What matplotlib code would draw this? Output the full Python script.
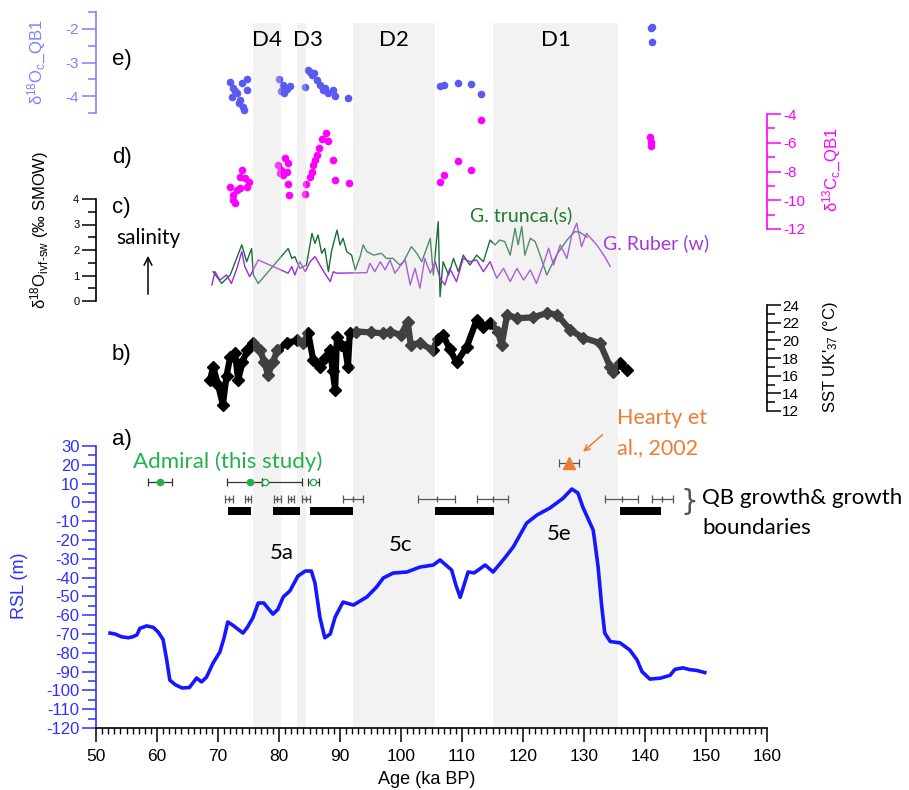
import numpy as np
import matplotlib.pyplot as plt
from matplotlib.patches import FancyArrowPatch
from matplotlib.ticker import MultipleLocator

plt.rcParams['font.family'] = ['Liberation Sans', 'DejaVu Sans']
plt.rcParams['mathtext.fontset'] = 'custom'
plt.rcParams['mathtext.rm'] = 'Liberation Sans'
plt.rcParams['mathtext.it'] = 'Liberation Sans:italic'
plt.rcParams['axes.unicode_minus'] = False

# ---- values ----
bands = [(75.7, 80.3), (83.0, 84.4), (92.1, 105.6), (115.1, 135.6)]
band_names = ["D4", "D3", "D2", "D1"]

# e) d18O calcite QB1
e_age = [72.0, 74.8, 72.5, 73.1, 72.3, 73.6, 74.1, 74.3, 74.8, 74.0, 72.8, 73.4,
         80.0, 80.7, 81.0, 80.4, 81.8, 80.9, 81.3,
         84.8, 85.4, 84.3, 86.2, 86.7, 87.2, 88.0, 88.9, 89.2, 91.3, 85.8, 85.1, 87.6,
         106.4, 107.0, 109.3, 111.5, 113.1,
         141.1, 141.0, 141.2]
e_d18o = [-3.58, -3.49, -3.76, -3.91, -4.03, -4.12, -4.33, -4.40, -3.82, -3.60, -3.85, -4.20,
          -3.49, -3.67, -3.76, -3.85, -3.70, -3.90, -3.80,
          -3.22, -3.37, -3.73, -3.52, -3.67, -3.82, -3.91, -3.82, -4.00, -4.06, -3.30, -3.28, -3.75,
          -3.70, -3.67, -3.60, -3.64, -3.94,
          -1.94, -1.98, -2.39]

# d) d13C calcite QB1
d_age = [72.0, 72.5, 72.8, 73.1, 73.6, 73.9, 73.6, 74.4, 75.0, 74.7, 72.5,
         79.9, 80.4, 81.0, 81.5, 80.7, 81.3, 80.2, 81.5, 81.7,
         84.3, 84.5, 85.1, 85.4, 85.6, 85.9, 86.2, 86.6, 87.0, 87.7, 88.1, 88.9, 89.1, 91.4,
         106.4, 107.1, 109.3, 111.5, 113.1,
         140.8, 141.0, 141.0]
d_d13c = [-9.06, -9.64, -10.22, -9.30, -9.18, -7.90, -8.37, -8.48, -8.71, -9.06, -9.99,
          -7.55, -7.90, -7.09, -7.44, -8.25, -8.02, -8.13, -8.90, -9.64,
          -9.57, -8.90, -8.37, -8.02, -7.55, -7.21, -6.86, -6.35, -5.74, -5.35, -5.88, -7.21, -8.60, -8.81,
          -8.71, -8.25, -7.28, -7.90, -4.40,
          -5.60, -5.95, -6.20]

# c) d18O ivf-sw, G. truncatulinoides (s)
tr_age = [69.2, 70.6, 72.0, 73.9, 74.7, 75.5, 75.8, 76.6, 81.5, 82.1, 82.6, 83.4, 84.5,
          85.4, 85.9, 86.4, 87.0, 87.5, 88.1, 88.6, 89.5, 90.0, 90.5, 91.1, 91.9, 92.5,
          93.3, 93.8, 94.4, 95.5, 96.8, 97.6, 98.7, 99.8, 100.4, 101.7, 102.6, 103.4,
          104.8, 105.3, 106.1, 106.4, 106.9, 107.8, 108.6, 109.4, 110.2, 111.3, 112.4,
          113.5, 114.6, 115.4, 116.2, 117.0, 117.9, 118.7, 119.2, 119.8, 120.3, 121.2,
          122.0, 122.8, 123.9, 125.5, 127.2, 128.5, 129.3, 130.5]
tr_d18o = [1.15, 0.69, 1.02, 2.20, 1.54, 2.06, 1.02, 0.69, 2.06, 1.67, 1.74, 1.28, 1.41,
           2.65, 2.26, 2.59, 1.87, 2.06, 1.15, 1.94, 2.78, 2.20, 2.46, 1.94, 1.80, 1.22,
           1.74, 2.20, 1.94, 1.80, 1.87, 1.67, 1.67, 1.41, 1.54, 2.13, 1.87, 1.54,
           2.46, 1.02, 3.11, 0.17, 1.54, 1.02, 1.67, 1.15, 1.80, 1.41, 1.80,
           1.54, 2.39, 2.20, 2.39, 2.33, 1.80, 2.85, 2.20, 2.92, 1.80, 2.46,
           2.33, 1.80, 1.02, 1.80, 2.39, 2.72, 2.70, 2.50]

# c) d18O ivf-sw, G. ruber (w)
rub_age = [69.0, 69.5, 70.3, 71.4, 72.2, 73.1, 73.9, 74.4, 75.2, 76.6, 81.5, 82.1, 82.6,
           83.4, 84.3, 85.1, 85.9, 86.7, 87.5, 88.4, 88.9, 89.5, 94.4, 94.9, 95.7, 96.6,
           97.4, 98.2, 99.0, 99.8, 100.7, 101.5, 102.3, 103.1, 103.9, 104.8, 105.6, 106.4,
           107.2, 108.0, 109.1, 110.2, 111.3, 112.4, 113.5, 114.6, 115.7, 116.8, 117.9,
           119.0, 120.1, 121.2, 122.2, 123.3, 124.2, 125.0, 126.1, 127.2, 128.0, 128.8,
           129.6, 130.4, 132.1, 133.4, 134.3]
rub_d18o = [0.63, 1.15, 0.82, 1.02, 0.69, 1.28, 1.94, 1.35, 0.95, 1.61, 1.09, 1.35, 1.02,
            1.54, 1.15, 1.54, 1.74, 1.41, 1.09, 0.76, 1.15, 1.09, 1.11, 1.48, 1.15, 1.54,
            1.22, 1.61, 1.09, 1.35, 1.61, 0.63, 1.28, 0.50, 1.67, 1.09, 1.54, 0.89,
            0.63, 1.28, 0.76, 1.67, 1.54, 1.61, 1.15, 1.54, 0.89, 1.28, 0.76,
            1.28, 0.82, 1.22, 0.69, 1.41, 2.07, 1.41, 2.20, 1.67, 2.59, 3.05,
            2.13, 2.65, 2.20, 1.74, 1.35]

# b) SST UK'37
sst_age = [68.7, 69.2, 70.0, 70.8, 71.4, 72.0, 72.8, 73.3, 74.0, 74.8, 75.7, 76.9, 77.6,
           78.2, 79.0, 79.7, 81.3, 82.9, 84.0, 84.8, 85.6, 86.7, 87.6, 88.4, 88.8, 89.2,
           89.5, 90.2, 90.8, 91.3, 91.6, 92.7, 95.0, 97.0, 98.2, 100.0, 101.1, 101.6,
           103.1, 105.2, 106.0, 106.9, 108.0, 109.1, 110.8, 112.4, 113.5, 114.6, 115.9,
           116.5, 117.4, 119.0, 121.6, 124.0, 125.6, 127.7, 129.8, 132.6, 134.3, 134.8,
           135.9, 137.0]
sst = [15.5, 17.0, 15.0, 12.7, 16.0, 18.1, 18.6, 15.5, 17.5, 18.9, 19.7, 18.9, 17.5,
       16.1, 17.5, 18.9, 19.7, 20.0, 19.7, 20.8, 17.8, 17.0, 18.0, 18.9, 16.5, 14.4,
       20.4, 19.5, 19.3, 17.0, 20.8, 21.0, 20.9, 20.8, 21.0, 20.6, 22.1, 19.5,
       19.7, 18.9, 20.2, 20.6, 19.0, 17.5, 19.3, 22.3, 21.5, 22.0, 21.0,
       19.5, 22.9, 22.5, 22.6, 23.1, 22.9, 21.2, 20.3, 19.7, 17.0, 16.4,
       17.4, 16.6]

# a) relative sea level
rsl_age = [52.3, 53.1, 54.2, 55.3, 56.0, 56.7, 57.2, 58.3, 59.4, 60.2, 61.0, 61.6, 62.1,
           63.0, 64.1, 65.3, 66.5, 67.3, 68.1, 69.2, 70.3, 71.0, 71.6, 72.5, 74.1, 74.8,
           75.7, 76.6, 77.5, 79.0, 79.8, 80.7, 81.8, 83.1, 84.3, 85.3, 85.9, 86.7, 87.5,
           88.4, 89.2, 90.5, 92.2, 94.4, 96.0, 97.1, 98.7, 101.0, 103.1, 105.3, 106.4,
           108.3, 109.0, 109.7, 111.0, 112.0, 113.8, 115.1, 117.0, 118.4, 120.6, 122.3,
           124.4, 126.5, 128.0, 129.0, 129.8, 131.5, 131.8, 132.3, 132.9, 133.4, 134.3,
           135.9, 137.5, 138.7, 139.5, 140.8, 142.5, 144.1, 144.9, 146.2, 147.4, 148.5,
           149.8]
rsl = [-69.5, -70.0, -71.5, -72.0, -71.5, -70.5, -67.0, -65.7, -66.5, -69.0, -73.0, -84.0,
       -94.5, -97.0, -98.7, -98.5, -93.4, -95.5, -93.0, -85.4, -79.6, -72.0, -63.6, -65.5,
       -69.5, -66.5, -61.5, -53.5, -53.5, -59.4, -57.0, -50.3, -47.0, -39.2, -36.5, -36.5,
       -42.9, -61.0, -72.0, -70.0, -61.0, -53.0, -54.6, -50.3, -45.0, -40.2, -37.6, -37.0,
       -34.4, -33.3, -30.6, -36.0, -44.0, -50.5, -37.0, -37.5, -33.3, -37.0, -29.6, -23.7,
       -11.0, -6.7, -3.0, 2.0, 7.1, 5.0, -2.4, -14.7, -21.6, -34.0, -55.0, -69.5, -74.0,
       -74.7, -78.5, -83.8, -90.0, -94.0, -93.5, -92.0, -88.8, -88.0, -89.0, -89.4, -90.5]

# QB growth intervals and growth boundary ages (+/- error)
qb_start = [71.6, 79.0, 85.1, 105.6, 135.9]
qb_end = [75.4, 83.4, 92.1, 115.2, 142.6]
qbb_age = [71.8, 74.9, 79.75, 82.0, 84.45, 92.15, 105.85, 115.0, 136.15, 142.85]
qbb_err = [0.7, 0.5, 0.55, 0.5, 0.65, 1.65, 3.05, 2.5, 2.75, 1.75]

# Admiral (this study) and Hearty et al., 2002
adm_age = [60.5, 75.2, 77.7, 85.6]
adm_rsl = [11, 11, 11, 11]
adm_err_lo = [1.9, 3.7, 0.5, 0.9]
adm_err_hi = [1.9, 2.0, 6.1, 0.9]
adm_filled = [True, True, False, False]
hearty_age = [127.5]
hearty_rsl = [21]
hearty_err = [1.6]

# ---- layout helpers (pixel coords of the 909x790 reference) ----
W, H = 909, 790
X0, X1 = 96, 767
fig = plt.figure(figsize=(W / 100, H / 100), dpi=100)


def px_axes(y_top, y_bot, z=1):
    ax = fig.add_axes([X0 / W, 1 - y_bot / H, (X1 - X0) / W, (y_bot - y_top) / H], zorder=z)
    ax.set_xlim(50, 160)
    ax.patch.set_visible(False)
    for s in ax.spines.values():
        s.set_visible(False)
    ax.tick_params(axis='x', which='both', bottom=False, labelbottom=False)
    return ax


def ft(x, y, s, **kw):
    kw.setdefault('va', 'center')
    kw.setdefault('ha', 'left')
    return fig.text(x / W, 1 - y / H, s, **kw)


def style_y(ax, side, color, major, minor, size):
    ax.yaxis.set_ticks_position(side)
    ax.spines[side].set_visible(True)
    ax.spines[side].set_color(color)
    ax.spines[side].set_linewidth(1.2)
    ax.yaxis.set_major_locator(MultipleLocator(major))
    ax.yaxis.set_minor_locator(MultipleLocator(minor))
    ax.tick_params(axis='y', which='major', direction='out', length=10, width=1.1,
                   color=color, labelcolor=color, labelsize=size, pad=2)
    ax.tick_params(axis='y', which='minor', direction='out', length=6, width=1.1, color=color)


calibri = ['Lato', 'DejaVu Sans']
shade_split = 425  # px row: bands are overlaid on panels b-e, drawn underneath in panel a

# plain light-grey bands behind panel a
ax_bg = px_axes(shade_split, 728, z=0)
ax_bg.set_ylim(0, 1)
ax_bg.set_yticks([])
for lo, hi in bands:
    ax_bg.axvspan(lo, hi, color='#f2f2f2', lw=0)

# e) panel
ax_e = px_axes(12, 113)
ax_e.set_ylim(-4.5, -1.5)
style_y(ax_e, 'left', '#7f7fff', 1, 0.5, 11)
ax_e.scatter(e_age, e_d18o, s=30, color='#5a5af2', linewidths=0, clip_on=False)

# d) panel
ax_d = px_axes(114, 229)
ax_d.set_ylim(-12, -4)
style_y(ax_d, 'right', '#ff00ff', 2, 1, 11)
ax_d.scatter(d_age, d_d13c, s=30, color='#ff00ff', linewidths=0, clip_on=False)

# c) panel
ax_c = px_axes(199, 301)
ax_c.set_ylim(0, 4)
style_y(ax_c, 'left', 'black', 1, 0.5, 8)
ax_c.plot(tr_age, tr_d18o, color='#1b6e35', lw=1.0)
ax_c.plot(rub_age, rub_d18o, color='#9a2bd6', lw=1.0)

# b) panel
ax_b = px_axes(305, 411)
ax_b.set_ylim(12, 24)
style_y(ax_b, 'right', 'black', 2, 1, 11)
ax_b.tick_params(axis='y', which='major', pad=1)
ax_b.plot(sst_age, sst, color='black', lw=4.5, marker='D', ms=6.5, clip_on=False)

# a) panel
ax_a = px_axes(446, 728)
ax_a.set_ylim(-120, 30)
style_y(ax_a, 'left', '#2f2fff', 10, 5, 12)
ax_a.spines['bottom'].set_visible(True)
ax_a.spines['bottom'].set_linewidth(1.2)
ax_a.xaxis.set_major_locator(MultipleLocator(10))
ax_a.xaxis.set_minor_locator(MultipleLocator(1))
ax_a.tick_params(axis='x', which='major', bottom=True, labelbottom=True, direction='out',
                 length=10, width=1.1, labelsize=12.5, pad=5)
ax_a.tick_params(axis='x', which='minor', bottom=True, direction='out', length=4, width=1.0)
ax_a.plot(rsl_age, rsl, color='#1717ff', lw=2.6)

qb_w = [e - s for s, e in zip(qb_start, qb_end)]
ax_a.barh(-4.5, qb_w, left=qb_start, height=4.5, color='black')
ax_a.errorbar(qbb_age, [2] * len(qbb_age), xerr=qbb_err, fmt='|', color='#555555',
              ms=5, lw=0.9, capsize=3, capthick=0.9)
for a, r, lo, hi, filled in zip(adm_age, adm_rsl, adm_err_lo, adm_err_hi, adm_filled):
    ax_a.errorbar([a], [r], xerr=[[lo], [hi]], fmt='none', ecolor='#333333',
                  lw=0.9, capsize=3, capthick=0.9)
    ax_a.plot([a], [r], 'o', ms=4.5, mec='#22b14c', mfc='#22b14c' if filled else 'white', mew=1)
ax_a.errorbar(hearty_age, hearty_rsl, xerr=hearty_err, fmt='none', ecolor='#555555',
              lw=0.9, capsize=3, capthick=0.9)
ax_a.plot(hearty_age, hearty_rsl, '^', ms=8, color='#ed7d31', clip_on=False)
ax_a.annotate('', xy=(129.5, 26), xytext=(133.4, 37), annotation_clip=False,
              arrowprops=dict(arrowstyle='->', color='#ed7d31', lw=1.1))

# shaded intervals laid over the upper panels (greys out the marks inside)
ax_s = px_axes(23, shade_split, z=2)
ax_s.set_ylim(0, 1)
ax_s.set_yticks([])
for lo, hi in bands:
    ax_s.axvspan(lo, hi, color='#d5d5d5', alpha=0.3, lw=0)

# ---- texts ----
for (lo, hi), name in zip(bands, band_names):
    mid = (lo + hi) / 2 + (1.0 if name == 'D3' else 0)
    ft(X0 + (mid - 50) * (X1 - X0) / 110, 40, name, ha='center', fontsize=16,
       family=calibri, zorder=5)
for lbl, y in [('e)', 60), ('d)', 157), ('c)', 207), ('b)', 355), ('a)', 440)]:
    ft(112, y, lbl, fontsize=16)
ft(148, 238, 'salinity', ha='center', fontsize=15, family=calibri)
fig.patches.append(FancyArrowPatch(
    (148 / W, 1 - 297 / H), (148 / W, 1 - 253 / H), transform=fig.transFigure,
    arrowstyle='->', mutation_scale=14, lw=1.1, color='black'))
ft(470, 215, 'G. trunca.(s)', fontsize=14, family=calibri, color='#1f7a2e')
ft(603, 243, 'G. Ruber (w)', fontsize=14, family=calibri, color='#a43ad8')
ft(133, 462, 'Admiral (this study)', fontsize=16, family=calibri, color='#22b14c')
ft(617, 418, 'Hearty et', fontsize=15.5, family=calibri, color='#ed7d31')
ft(617, 448, 'al., 2002', fontsize=15.5, family=calibri, color='#ed7d31')
ft(680, 502, '}', fontsize=20, color='#555555', family=['DejaVu Sans'])
ft(702, 498, 'QB growth& growth', fontsize=16, family=calibri)
ft(702, 528, 'boundaries', fontsize=16, family=calibri)
ft(282, 553, '5a', ha='center', fontsize=16, family=calibri)
ft(401, 545, '5c', ha='center', fontsize=16, family=calibri)
ft(559, 534, '5e', ha='center', fontsize=16, family=calibri)
ft(427, 779, 'Age (ka BP)', ha='center', fontsize=13)

ft(37, 62, 'δ$^{18}$O$_\\mathrm{c}$_QB1', ha='center', rotation=90, fontsize=12, color='#7f7fff')
ft(832, 170, 'δ$^{13}$C$_\\mathrm{c}$_QB1', ha='center', rotation=90, fontsize=12, color='#ff00ff')
ft(40, 230, 'δ$^{18}$O$_\\mathrm{ivf}$$_{\\mathrm{\u2010sw}}$ (‰ SMOW)', ha='center', rotation=90,
   fontsize=12, family=['Liberation Sans', 'DejaVu Sans'])
ft(831, 357, "SST UK'$_{37}$ (°C)", ha='center', rotation=90, fontsize=12)
ft(20, 586, 'RSL (m)', ha='center', rotation=90, fontsize=13, color='#2f2fff')

fig.savefig('out.png', dpi=100)
